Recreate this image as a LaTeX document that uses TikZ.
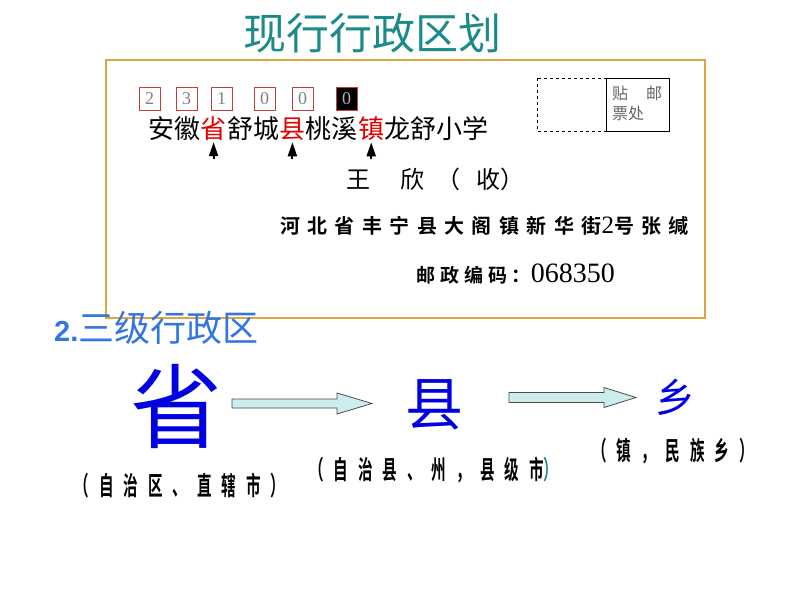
\documentclass[tikz,border=0pt]{standalone}
\usepackage{fontspec}
\setmainfont{Liberation Serif}
\newfontfamily\cjk{Noto Sans CJK SC}
\newfontfamily\cjkbf{Noto Sans CJK SC Bold}
\newfontfamily\labfont[FakeStretch=0.56,LetterSpace=38]{Noto Sans CJK SC Bold}
\newfontfamily\arialbf{Liberation Sans Bold}
\usetikzlibrary{arrows.meta,positioning}

\definecolor{titlecol}{RGB}{27,138,138}
\definecolor{envcol}{RGB}{224,164,64}
\definecolor{codered}{RGB}{192,64,64}
\definecolor{addrred}{RGB}{224,0,0}
\definecolor{levelblue}{RGB}{0,0,224}
\definecolor{headblue}{RGB}{51,119,221}
\definecolor{arrfill}{RGB}{204,236,238}
\definecolor{stampgray}{RGB}{100,100,100}

\tikzset{
  codebox/.style={draw=codered, line width=0.8pt, minimum width=21pt,
    minimum height=23pt, inner sep=0pt, text=gray,
    font=\fontsize{18}{18}\selectfont},
  addr/.style={inner sep=0pt, anchor=base west,
    font=\cjk\fontsize{26}{26}\selectfont},
  uparrow/.style={-{Triangle[width=9pt,length=14pt]}, line width=2pt},
  blockarrow/.style={draw=black!70, fill=arrfill, line width=0.8pt},
  level/.style={text=levelblue, inner sep=0pt},
  sublabel/.style={inner sep=0pt, font=\labfont\fontsize{26}{26}\selectfont},
}

\begin{document}
\begin{tikzpicture}[x=1pt,y=-1pt]
  \useasboundingbox (0,0) rectangle (794,596);

  % title
  \node[text=titlecol, font=\cjk\fontsize{43}{43}\selectfont] (title) at (372,33) {现行行政区划};

  % envelope
  \draw[envcol, line width=1.2pt] (106,60) rectangle (705,318);

  % postcode boxes
  \node[codebox] (c1) at (149.5,98.5) {2};
  \node[codebox] (c2) at (186.5,98.5) {3};
  \node[codebox] (c3) at (221.5,98.5) {1};
  \node[codebox] (c4) at (264.5,98.5) {0};
  \node[codebox] (c5) at (302.5,98.5) {0};
  \node[codebox, draw=codered, fill=black, text=gray!60] (c6) at (346.5,98.5) {0};

  % stamp
  \draw[dashed, line width=0.6pt] (537,78) rectangle (606,131);
  \draw[line width=0.8pt] (606,78) rectangle (669,131);
  \node[anchor=north west, align=left, inner sep=0pt, text=stampgray,
    font=\cjk\fontsize{16}{20}\selectfont] (stamp) at (612,86) {贴\hspace{18pt}邮\\票处};

  % address
  \node[addr] (a1) at (148,139) {安徽};
  \node[addr, text=addrred] (sheng) at (a1.base east) {省};
  \node[addr] (a2) at (sheng.base east) {舒城};
  \node[addr, text=addrred] (xian) at (a2.base east) {县};
  \node[addr] (a3) at (xian.base east) {桃溪};
  \node[addr, text=addrred] (zhen) at (a3.base east) {镇};
  \node[addr] (a4) at (zhen.base east) {龙舒小学};
  \foreach \n in {sheng,xian,zhen}
    \draw[uparrow] ([yshift=-18pt]\n.south) -- ([yshift=-1pt]\n.south);

  % receiver and sender
  \node[anchor=west, inner sep=0pt, font=\cjk\fontsize{24}{24}\selectfont] (recv) at (346,179)
    {王\hspace{30pt}欣\hspace{12pt}（\hspace{16pt}收）};
  \node[anchor=west, inner sep=0pt, font=\cjkbf\fontsize{20}{20}\selectfont\addfontfeature{LetterSpace=37}]
    (sender) at (280,226) {河北省丰宁县大阁镇新华街{\rmfamily\fontsize{25}{25}\selectfont 2}号张缄};
  \node[anchor=west, inner sep=0pt, font=\cjkbf\fontsize{19}{19}\selectfont\addfontfeature{LetterSpace=26}]
    (code) at (416,274) {邮政编码：{\rmfamily\fontsize{28}{28}\selectfont 068350}};

  % levels
  \node[anchor=west, inner sep=0pt, text=headblue, font=\cjk\fontsize{36}{36}\selectfont] (head) at (54,328)
    {{\arialbf\fontsize{29}{29}\selectfont 2.}三级行政区};
  \node[level, font=\cjk\fontsize{92}{92}\selectfont] (prov) at (176,406) {省};
  \node[level, font=\cjk\fontsize{58}{58}\selectfont] (county) at (434,405) {县};
  \node[level, font=\cjk\fontsize{40}{40}\selectfont] (town) at (675,397) {乡};

  \coordinate (arrA) at (232,403.5);
  \coordinate (arrB) at (509,397.5);
  \draw[blockarrow] (arrA) ++(0,-4.5) -- ++(105,0) -- ++(0,-6) -- ++(35,10.5)
    -- ++(-35,10.5) -- ++(0,-6) -- ++(-105,0) -- cycle;
  \draw[blockarrow] (arrB) ++(0,-5) -- ++(95,0) -- ++(0,-5) -- ++(32,10)
    -- ++(-32,10) -- ++(0,-5) -- ++(-95,0) -- cycle;

  \node[sublabel] (labA) at (180,486) {（自治区、直辖市）};
  \node[sublabel] (labB) at (434,470) {（自治县、州，县级市{\color{titlecol}）}};
  \node[sublabel] (labC) at (673,451) {（镇，民族乡）};
\end{tikzpicture}
\end{document}
